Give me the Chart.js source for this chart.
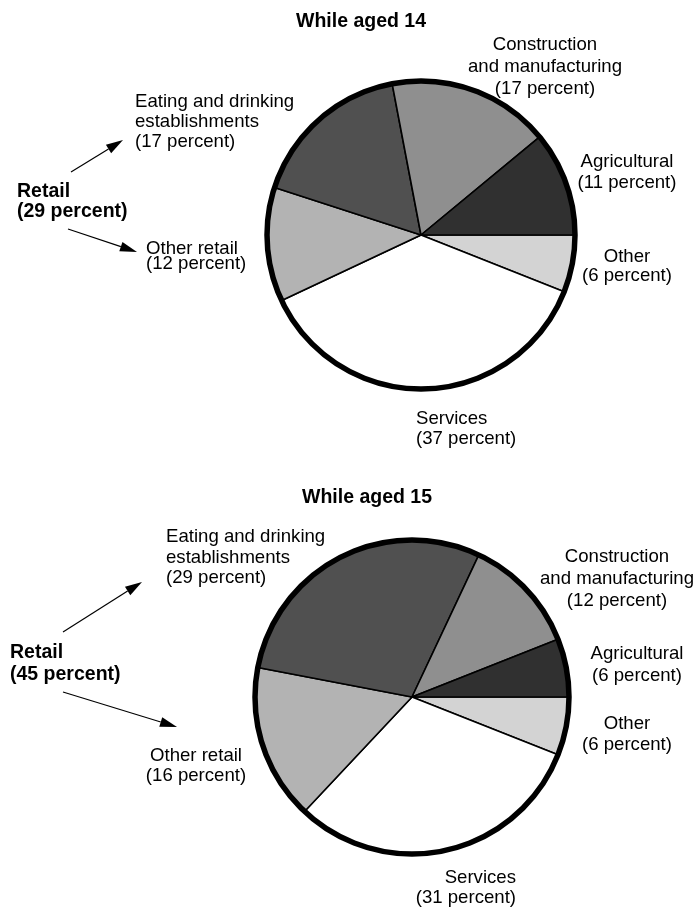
<!DOCTYPE html>
<html>
<head>
<meta charset="utf-8">
<script src="https://cdn.jsdelivr.net/npm/chart.js@4.4.0/dist/chart.umd.min.js"></script>
<style>
  html, body { margin: 0; padding: 0; background: #fff; }
  #page { position: relative; width: 696px; height: 907px; overflow: hidden;
          font-family: 'Liberation Sans', Arial, Helvetica, sans-serif; color: #000; }
  canvas { position: absolute; }
  .lbl { position: absolute; white-space: pre; font-size: 18.6px; }
  .bold { font-weight: bold; font-size: 19.5px; }
  #arrows { position: absolute; left: 0; top: 0; }
</style>
</head>
<body>
<div id="page">
  <canvas id="pie14" width="360" height="360"></canvas>
  <canvas id="pie15" width="360" height="360"></canvas>
  <svg id="arrows" width="696" height="907"></svg>
</div>
<script>
// slices run clockwise from 3 o'clock
const categories = ['Other', 'Services', 'Other retail', 'Eating and drinking\nestablishments',
  'Construction\nand manufacturing', 'Agricultural']
const aged14 = [6, 37, 12, 17, 17, 11]
const aged15 = [6, 31, 16, 29, 12, 6]
const titles = ['While aged 14', 'While aged 15']
const sliceColors = ['#d3d3d3', '#ffffff', '#b3b3b3', '#505050', '#8f8f8f', '#303030']

// heavy rim round the whole pie
const outerRing = {
  id: 'outerRing',
  afterDatasetsDraw (chart) {
    const arc = chart.getDatasetMeta(0).data[0]
    const ctx = chart.ctx
    ctx.save()
    ctx.beginPath()
    ctx.arc(arc.x, arc.y, arc.outerRadius, 0, Math.PI * 2)
    ctx.lineWidth = 5.5
    ctx.strokeStyle = '#000'
    ctx.stroke()
    ctx.restore()
  }
}

function makePie (id, values, cx, cy, radius) {
  const el = document.getElementById(id)
  el.style.left = (cx - 180) + 'px'
  el.style.top = (cy - 180) + 'px'
  return new Chart(el, {
    type: 'pie',
    data: {
      labels: categories,
      datasets: [{
        data: values,
        backgroundColor: sliceColors,
        borderColor: '#000',
        borderWidth: 1.6
      }]
    },
    options: {
      responsive: false,
      animation: false,
      rotation: 90,
      radius: radius,
      layout: { padding: 0 },
      plugins: { legend: { display: false }, tooltip: { enabled: false } }
    },
    plugins: [outerRing]
  })
}

makePie('pie14', aged14, 421, 235, 154)
makePie('pie15', aged15, 412, 697, 157)

const page = document.getElementById('page')

// x is left, centre or right edge according to align; y is first baseline
function label (text, x, y, align, lh, bold) {
  const d = document.createElement('div')
  d.className = 'lbl' + (bold ? ' bold' : '')
  d.textContent = text
  const fs = bold ? 19.5 : 18.6
  d.style.lineHeight = lh + 'px'
  d.style.textAlign = align
  d.style.top = (y - (lh - 1.117 * fs) / 2 - 0.905 * fs) + 'px'
  if (align === 'center') {
    d.style.left = x + 'px'
    d.style.transform = 'translateX(-50%)'
  } else if (align === 'right') {
    d.style.right = (696 - x) + 'px'
  } else {
    d.style.left = x + 'px'
  }
  page.appendChild(d)
}

const pct = v => '(' + v + ' percent)'

// While aged 14
label(titles[0], 361, 27, 'center', 22, true)
label(categories[3] + '\n' + pct(aged14[3]), 135, 107, 'left', 20)
label('Retail\n' + pct(aged14[2] + aged14[3]), 17, 197, 'left', 20, true)
label(categories[2] + '\n' + pct(aged14[2]), 146, 255, 'left', 14.5)
label(categories[4] + '\n' + pct(aged14[4]), 545, 50, 'center', 22)
label(categories[5] + '\n' + pct(aged14[5]), 627, 167, 'center', 21)
label(categories[0] + '\n' + pct(aged14[0]), 627, 262, 'center', 19.5)
label(categories[1] + '\n' + pct(aged14[1]), 416, 424, 'left', 20)

// While aged 15
label(titles[1], 367, 503, 'center', 22, true)
label(categories[3] + '\n' + pct(aged15[3]), 166, 543, 'left', 20.5)
label('Retail\n' + pct(aged15[2] + aged15[3]), 10, 658, 'left', 22, true)
label(categories[2] + '\n' + pct(aged15[2]), 196, 761, 'center', 20)
label(categories[4] + '\n' + pct(aged15[4]), 617, 562, 'center', 22)
label(categories[5] + '\n' + pct(aged15[5]), 637, 659, 'center', 22)
label(categories[0] + '\n' + pct(aged15[0]), 627, 729, 'center', 21)
label(categories[1] + '\n' + pct(aged15[1]), 516, 883, 'right', 20)

// pointer arrows from the Retail notes
const svg = document.getElementById('arrows')
function arrow (x1, y1, x2, y2) {
  const ns = 'http://www.w3.org/2000/svg'
  const len = Math.hypot(x2 - x1, y2 - y1)
  const ux = (x2 - x1) / len
  const uy = (y2 - y1) / len
  const hl = 17
  const hw = 5
  const bx = x2 - ux * hl
  const by = y2 - uy * hl
  const line = document.createElementNS(ns, 'line')
  line.setAttribute('x1', x1)
  line.setAttribute('y1', y1)
  line.setAttribute('x2', bx)
  line.setAttribute('y2', by)
  line.setAttribute('stroke', '#000')
  line.setAttribute('stroke-width', '1.2')
  svg.appendChild(line)
  const head = document.createElementNS(ns, 'polygon')
  head.setAttribute('points', [
    x2 + ',' + y2,
    (bx - uy * hw) + ',' + (by + ux * hw),
    (bx + uy * hw) + ',' + (by - ux * hw)
  ].join(' '))
  head.setAttribute('fill', '#000')
  svg.appendChild(head)
}
arrow(71, 172, 123, 140)
arrow(68, 229, 137, 252)
arrow(63, 632, 142, 582)
arrow(63, 692, 177, 727)
</script>
</body>
</html>
